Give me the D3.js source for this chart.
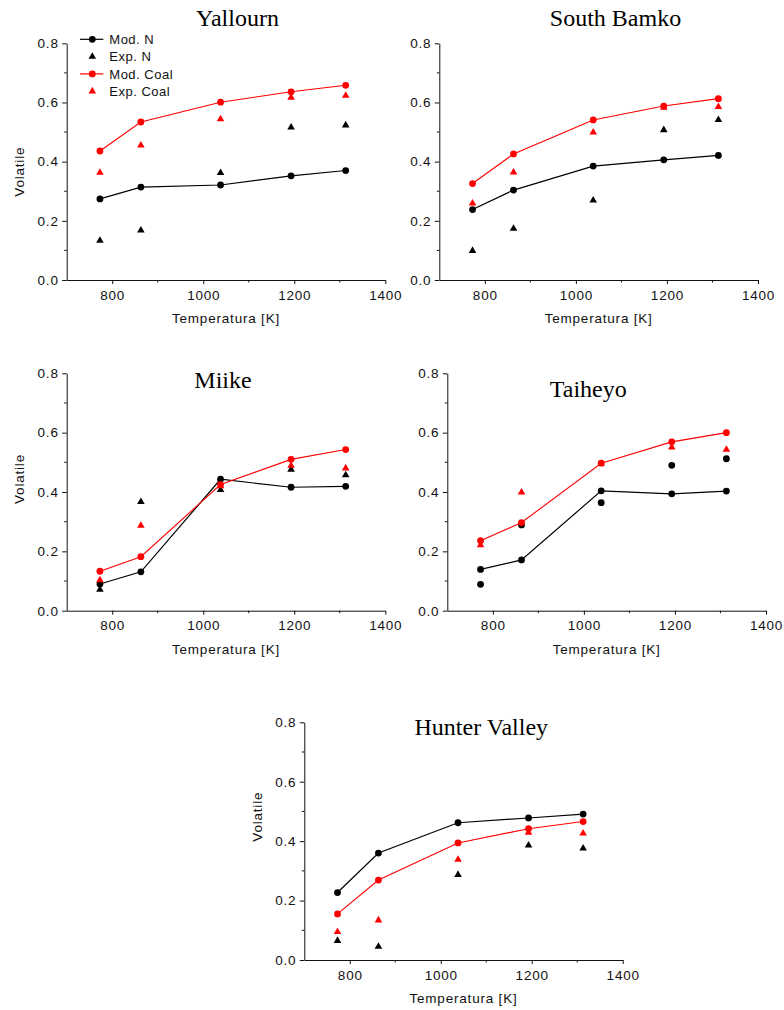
<!DOCTYPE html>
<html>
<head>
<meta charset="utf-8">
<script src="https://cdn.jsdelivr.net/npm/d3@7"></script>
<style>
  html, body { margin: 0; padding: 0; background: #fff; }
  svg { display: block; }
  .tick text, .lab { font-family: "Liberation Sans", Arial, sans-serif; font-size: 13.5px; letter-spacing: 0.8px; fill: #111; }
  .legend text { font-family: "Liberation Sans", Arial, sans-serif; font-size: 13px; letter-spacing: 0.5px; fill: #111; }
  .title { font-family: "Liberation Serif", "Times New Roman", serif; font-size: 24px; fill: #000; }
</style>
</head>
<body>
<script>
// Temperatures of the pyrolysis runs [K]
const temperatures = [773, 863, 1038, 1193, 1313];
const coals = ["Yallourn", "South Bamko", "Miike", "Taiheyo", "Hunter Valley"];

// Volatile yields per coal (rows follow `coals`)
const modN = [
  [0.274, 0.314, 0.321, 0.352, 0.370],
  [0.238, 0.304, 0.385, 0.406, 0.421],
  [0.090, 0.131, 0.443, 0.416, 0.419],
  [0.139, 0.171, 0.404, 0.394, 0.403],
  [0.227, 0.360, 0.462, 0.478, 0.491]
];
const expN = [
  [0.133, 0.168, 0.362, 0.516, 0.523],
  [0.099, 0.174, 0.269, 0.507, 0.541],
  [0.071, 0.367, 0.407, 0.476, 0.457],
  [0.089, 0.289, 0.364, 0.490, 0.512],
  [0.065, 0.045, 0.287, 0.386, 0.376]
];
const modCoal = [
  [0.436, 0.534, 0.601, 0.636, 0.658],
  [0.326, 0.426, 0.541, 0.588, 0.613],
  [0.133, 0.182, 0.425, 0.510, 0.543],
  [0.236, 0.297, 0.497, 0.569, 0.600],
  [0.155, 0.269, 0.394, 0.442, 0.466]
];
const expCoal = [
  [0.363, 0.455, 0.544, 0.617, 0.623],
  [0.259, 0.364, 0.499, 0.583, 0.585],
  [0.103, 0.287, 0.420, 0.489, 0.480],
  [0.221, 0.399, 0.495, 0.551, 0.543],
  [0.095, 0.134, 0.338, 0.429, 0.426]
];
// Marker used for the N measurements in each panel
const expNShape = ["triangle", "triangle", "triangle", "circle", "triangle"];

const xTicks = [800, 1000, 1200, 1400];
const xMinor = [900, 1100, 1300];
const yTicks = [0, 0.2, 0.4, 0.6, 0.8];
const yMinor = [0.1, 0.3, 0.5, 0.7];
const legendLabels = ["Mod. N", "Exp. N", "Mod. Coal", "Exp. Coal"];

// Panel frames
const panels = [
  { x0: 66.7,  x1: 385.3, y0: 43.3,  y1: 280,   tx: 237.5, ty: 26,    ylab: 171.7 },
  { x0: 439.3, x1: 758,   y0: 43.3,  y1: 280,   tx: 615.5, ty: 26,    ylab: null  },
  { x0: 66.7,  x1: 385.3, y0: 373.3, y1: 610.7, tx: 223,   ty: 388.3, ylab: 479   },
  { x0: 447.3, x1: 766,   y0: 373.3, y1: 610.7, tx: 588.3, ty: 396.7, ylab: null  },
  { x0: 304.3, x1: 622.7, y0: 722.3, y1: 960,   tx: 481.3, ty: 735,   ylab: 816.7 }
];

const RED = "#ff0000", BLACK = "#000000";
const svg = d3.select("body").append("svg").attr("width", 784).attr("height", 1010);

const tri = d3.symbol().type(d3.symbolTriangle).size(25);

function drawMarkers(g, vals, x, y, shape, color) {
  const pts = temperatures.map((t, i) => [x(t), y(vals[i])]);
  if (shape === "circle") {
    g.selectAll(null).data(pts).join("circle")
      .attr("cx", d => d[0]).attr("cy", d => d[1]).attr("r", 3.4).attr("fill", color);
  } else {
    g.selectAll(null).data(pts).join("path")
      .attr("d", tri).attr("transform", d => `translate(${d[0]},${d[1]})`).attr("fill", color);
  }
}

panels.forEach((p, k) => {
  const x = d3.scaleLinear().domain([700, 1400]).range([p.x0, p.x1]);
  const y = d3.scaleLinear().domain([0, 0.8]).range([p.y1, p.y0]);
  const g = svg.append("g");

  // axes
  const xa = g.append("g").attr("transform", `translate(0,${p.y1})`)
    .call(d3.axisBottom(x).tickValues(xTicks).tickFormat(d3.format("d")).tickSize(4).tickSizeOuter(0).tickPadding(6));
  const ya = g.append("g").attr("transform", `translate(${p.x0},0)`)
    .call(d3.axisLeft(y).tickValues(yTicks).tickFormat(d3.format(".1f")).tickSize(4.5).tickSizeOuter(0).tickPadding(3.5));
  [xa, ya].forEach(a => {
    a.selectAll("path, line").attr("stroke", "#111").attr("stroke-width", 1);
    a.attr("font-family", null).attr("font-size", null);
  });
  g.append("g").selectAll(null).data(xMinor).join("line")
    .attr("x1", d => x(d)).attr("x2", d => x(d)).attr("y1", p.y1).attr("y2", p.y1 + 2.5)
    .attr("stroke", "#111");
  g.append("g").selectAll(null).data(yMinor).join("line")
    .attr("y1", d => y(d)).attr("y2", d => y(d)).attr("x1", p.x0).attr("x2", p.x0 - 2.5)
    .attr("stroke", "#111");

  // axis titles
  g.append("text").attr("class", "lab").attr("x", (p.x0 + p.x1) / 2).attr("y", p.y1 + 43)
    .attr("text-anchor", "middle").text("Temperatura [K]");
  if (p.ylab !== null) {
    g.append("text").attr("class", "lab").attr("text-anchor", "middle")
      .attr("transform", `translate(${p.x0 - 42.5},${p.ylab}) rotate(-90)`).text("Volatile");
  }

  // panel title
  g.append("text").attr("class", "title").attr("x", p.tx).attr("y", p.ty)
    .attr("text-anchor", "middle").text(coals[k]);

  // series
  const line = d3.line().x((d, i) => x(temperatures[i])).y(d => y(d));
  g.append("path").datum(modN[k]).attr("d", line).attr("fill", "none").attr("stroke", BLACK).attr("stroke-width", 1.2);
  drawMarkers(g, modN[k], x, y, "circle", BLACK);
  drawMarkers(g, expN[k], x, y, expNShape[k], BLACK);
  g.append("path").datum(modCoal[k]).attr("d", line).attr("fill", "none").attr("stroke", RED).attr("stroke-width", 1.1);
  drawMarkers(g, modCoal[k], x, y, "circle", RED);
  drawMarkers(g, expCoal[k], x, y, "triangle", RED);
});

// legend in the first panel
const lg = svg.append("g").attr("class", "legend");
const legendStyle = [
  { color: BLACK, line: true,  shape: "circle" },
  { color: BLACK, line: false, shape: "triangle" },
  { color: RED,   line: true,  shape: "circle" },
  { color: RED,   line: false, shape: "triangle" }
];
legendLabels.forEach((lab, i) => {
  const cy = 39.3 + i * 17.3;
  const s = legendStyle[i];
  if (s.line) {
    lg.append("line").attr("x1", 80).attr("x2", 103.3).attr("y1", cy).attr("y2", cy)
      .attr("stroke", s.color).attr("stroke-width", 1.2);
  }
  if (s.shape === "circle") {
    lg.append("circle").attr("cx", 92.3).attr("cy", cy).attr("r", 3.4).attr("fill", s.color);
  } else {
    lg.append("path").attr("d", tri).attr("transform", `translate(92.3,${cy})`).attr("fill", s.color);
  }
  lg.append("text").attr("x", 109.3).attr("y", cy + 4.6).text(lab);
});
</script>
</body>
</html>
